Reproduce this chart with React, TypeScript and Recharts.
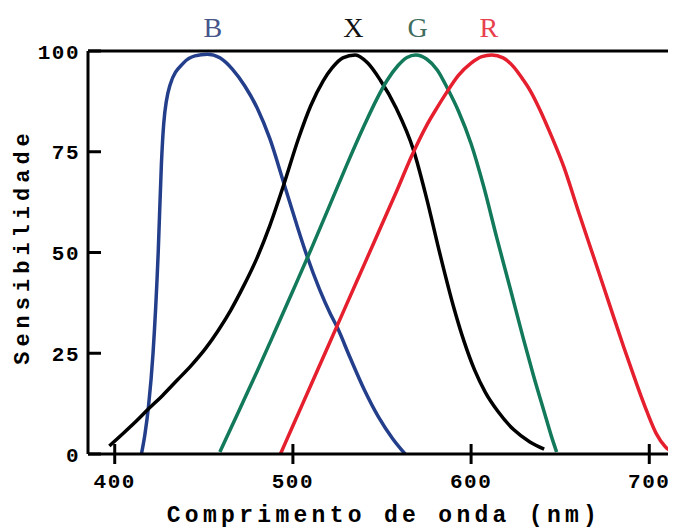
import React from "react";
import { LineChart, Line, XAxis, YAxis, ReferenceLine, ReferenceDot } from "recharts";

// Wavelength (nm) → sensitivity
const blueSeries = [
  { nm: 415, s: 0 }, { nm: 417, s: 5 }, { nm: 419, s: 12 }, { nm: 421.5, s: 25 },
  { nm: 424.4, s: 50 }, { nm: 426.2, s: 72 }, { nm: 427.5, s: 82 }, { nm: 431, s: 91.5 },
  { nm: 438.5, s: 97 }, { nm: 445, s: 98.8 }, { nm: 452, s: 99.2 }, { nm: 459, s: 98.3 },
  { nm: 466, s: 95.5 }, { nm: 473, s: 91.3 }, { nm: 480, s: 85.8 }, { nm: 487, s: 78.3 },
  { nm: 494.7, s: 67.5 }, { nm: 501.5, s: 57.8 }, { nm: 508, s: 49 }, { nm: 515, s: 40.8 },
  { nm: 521, s: 34.8 }, { nm: 525, s: 31.3 }, { nm: 532, s: 24 }, { nm: 540, s: 16 },
  { nm: 548, s: 9.2 }, { nm: 556, s: 3.8 }, { nm: 563, s: 0 },
];

const blackSeries = [
  { nm: 397, s: 2 }, { nm: 405, s: 5.2 }, { nm: 412, s: 8.1 }, { nm: 419, s: 11.2 },
  { nm: 427, s: 14.6 }, { nm: 435, s: 18.3 }, { nm: 443, s: 22 }, { nm: 451, s: 26.2 },
  { nm: 458, s: 30.6 }, { nm: 465, s: 35.6 }, { nm: 472, s: 41.4 }, { nm: 480, s: 48.8 },
  { nm: 487, s: 56.6 }, { nm: 495, s: 67 }, { nm: 503, s: 78.1 }, { nm: 510, s: 86.4 },
  { nm: 517, s: 92.6 }, { nm: 522, s: 95.8 }, { nm: 528, s: 98.3 }, { nm: 535, s: 99 },
  { nm: 542, s: 97 }, { nm: 549, s: 92.8 }, { nm: 558, s: 85.8 }, { nm: 567.7, s: 75.4 },
  { nm: 575, s: 63.5 }, { nm: 582.6, s: 49.5 }, { nm: 590, s: 36.8 }, { nm: 596, s: 28 },
  { nm: 602, s: 20.8 }, { nm: 608, s: 15.3 }, { nm: 615, s: 10.6 }, { nm: 624, s: 6 },
  { nm: 633, s: 3 }, { nm: 641, s: 1.2 },
];

const greenSeries = [
  { nm: 459, s: 0.5 }, { nm: 470, s: 11 }, { nm: 480, s: 20.6 }, { nm: 490, s: 30.5 },
  { nm: 500, s: 40.5 }, { nm: 510, s: 50.6 }, { nm: 520, s: 61 }, { nm: 530, s: 71.5 },
  { nm: 540, s: 81.5 }, { nm: 547, s: 88 }, { nm: 553, s: 92.8 }, { nm: 559, s: 96.4 },
  { nm: 564, s: 98.4 }, { nm: 569, s: 99 }, { nm: 575, s: 98 }, { nm: 581, s: 95.3 },
  { nm: 587, s: 90.5 }, { nm: 593, s: 85 }, { nm: 600, s: 77 }, { nm: 607, s: 66.5 },
  { nm: 614.5, s: 53.5 }, { nm: 622, s: 41 }, { nm: 629.4, s: 28.5 }, { nm: 635, s: 19.5 },
  { nm: 641, s: 10.5 }, { nm: 645, s: 4.5 }, { nm: 648, s: 0.5 },
];

const redSeries = [
  { nm: 493, s: 0 }, { nm: 500, s: 7 }, { nm: 510, s: 17 }, { nm: 520, s: 27 },
  { nm: 530, s: 37 }, { nm: 540, s: 47 }, { nm: 550, s: 57 }, { nm: 558, s: 65 },
  { nm: 566.7, s: 74 }, { nm: 575, s: 81.5 }, { nm: 581, s: 86 }, { nm: 586.4, s: 89.8 },
  { nm: 593, s: 94 }, { nm: 600, s: 97 }, { nm: 606, s: 98.6 }, { nm: 611.6, s: 99 },
  { nm: 618, s: 98.3 }, { nm: 624, s: 96 }, { nm: 629, s: 93 }, { nm: 633, s: 90.3 },
  { nm: 638, s: 86 }, { nm: 645, s: 79 }, { nm: 652, s: 71.3 }, { nm: 660, s: 60.5 },
  { nm: 668.7, s: 49 }, { nm: 677, s: 38 }, { nm: 685.6, s: 26.6 }, { nm: 692, s: 18.5 },
  { nm: 698.7, s: 10.5 }, { nm: 704, s: 5 }, { nm: 709, s: 1.8 }, { nm: 714, s: 0.3 },
];

const xTicks = [400, 500, 600, 700];
const yTicks = [0, 25, 50, 75, 100];
const peakNames = ["B", "X", "G", "R"];
const peakPositions = [455, 534, 570, 610];
const peakColors = ["#46568a", "#111111", "#3f6e5e", "#e8404c"];

const MONO = "'Liberation Mono', 'DejaVu Sans Mono', monospace";

const XTick = (props: any) => {
  const { x, y, payload } = props;
  return (
    <g>
      <line x1={x} x2={x} y1={y - 10} y2={y + 10} stroke="#000" strokeWidth={3} />
      <text x={x} y={y + 34} textAnchor="middle" fontFamily={MONO} fontWeight="bold" fontSize={21} letterSpacing={1.5} fill="#000">
        {payload.value}
      </text>
    </g>
  );
};

const YTick = (props: any) => {
  const { x, y, payload } = props;
  return (
    <g>
      <line x1={x} x2={x + 13} y1={y} y2={y} stroke="#000" strokeWidth={3} />
      <text x={x - 8} y={y} dy="0.36em" textAnchor="end" fontFamily={MONO} fontWeight="bold" fontSize={21} letterSpacing={1.5} fill="#000">
        {payload.value}
      </text>
    </g>
  );
};

export default function App() {
  return (
    <div style={{ width: 668, height: 521 }}>
      <LineChart width={668} height={521} margin={{ top: 43, right: 0, bottom: 0, left: 0 }}>
        <XAxis
          dataKey="nm"
          type="number"
          domain={[385, 715]}
          ticks={xTicks}
          height={75}
          tickSize={0}
          tickMargin={0}
          tickLine={false}
          tick={<XTick />}
          axisLine={{ stroke: "#000", strokeWidth: 3 }}
          allowDataOverflow
          label={(p: any) => {
            const vb = p.viewBox;
            return (
              <text x={vb.x + vb.width / 2 + 2} y={vb.y + 68} textAnchor="middle" fontFamily={MONO} fontWeight="bold" fontSize={23} letterSpacing={4.3} fill="#000">
                Comprimento de onda (nm)
              </text>
            );
          }}
        />
        <YAxis
          dataKey="s"
          type="number"
          domain={[0, 100]}
          ticks={yTicks}
          width={80}
          tickSize={0}
          tickMargin={0}
          tickLine={false}
          tick={<YTick />}
          axisLine={{ stroke: "#000", strokeWidth: 3 }}
          label={(p: any) => {
            const vb = p.viewBox;
            const cx = 15;
            const cy = vb.y + vb.height / 2 - 6;
            return (
              <text x={cx} y={cy} transform={`rotate(-90 ${cx} ${cy})`} textAnchor="middle" dominantBaseline="central" fontFamily={MONO} fontWeight="bold" fontSize={22} letterSpacing={5} fill="#000">
                Sensibilidade
              </text>
            );
          }}
        />
        <ReferenceLine y={100} stroke="#000" strokeWidth={3} />
        <Line data={blueSeries} dataKey="s" type="monotone" stroke="#233e8b" strokeWidth={3.5} dot={false} isAnimationActive={false} />
        <Line data={blackSeries} dataKey="s" type="monotone" stroke="#000000" strokeWidth={3.5} dot={false} isAnimationActive={false} />
        <Line data={greenSeries} dataKey="s" type="monotone" stroke="#12795a" strokeWidth={3.5} dot={false} isAnimationActive={false} />
        <Line data={redSeries} dataKey="s" type="monotone" stroke="#e51f2d" strokeWidth={3.5} dot={false} isAnimationActive={false} />
        {peakNames.map((name, i) => (
          <ReferenceDot
            key={name}
            x={peakPositions[i]}
            y={100}
            r={0}
            fill="none"
            stroke="none"
            label={(p: any) => {
              const vb = p.viewBox;
              return (
                <text x={vb.x + vb.width / 2} y={vb.y - 13.7} textAnchor="middle" fontFamily="'Liberation Serif', 'DejaVu Serif', serif" fontSize={28} fill={peakColors[i]}>
                  {name}
                </text>
              );
            }}
          />
        ))}
      </LineChart>
    </div>
  );
}
